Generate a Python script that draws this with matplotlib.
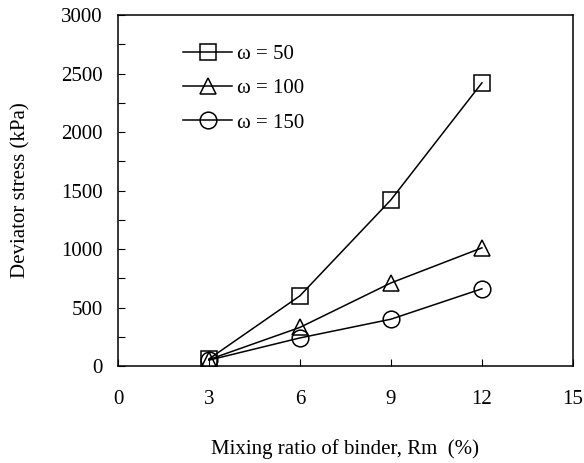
import matplotlib
matplotlib.use('Agg')
import matplotlib.pyplot as plt
from matplotlib.ticker import MultipleLocator

plt.rcParams['font.family'] = ['Liberation Serif', 'DejaVu Serif']
plt.rcParams['font.size'] = 15

# mixing ratio (%) and deviator stress (kPa)
mixing_ratio = [3, 6, 9, 12]
stress_w50 = [60, 600, 1420, 2420]
stress_w100 = [55, 330, 710, 1010]
stress_w150 = [50, 240, 400, 660]
labels = ['\u03c9 = 50', '\u03c9 = 100', '\u03c9 = 150']

fig = plt.figure(figsize=(5.84, 4.63), dpi=100)
ax = fig.add_axes([0.202, 0.2095, 0.779, 0.7581])

series = [stress_w50, stress_w100, stress_w150]
markers = ['s', '^', 'o']
for vals, mk, lab in zip(series, markers, labels):
    ax.plot(mixing_ratio, vals, color='black', linewidth=1.1, marker=mk,
            markersize=12, markerfacecolor='none', markeredgecolor='black',
            markeredgewidth=1.1, label=lab)

ax.set_xlim(0, 15)
ax.set_ylim(0, 3000)
ax.xaxis.set_major_locator(MultipleLocator(3))
ax.yaxis.set_major_locator(MultipleLocator(500))
ax.yaxis.set_minor_locator(MultipleLocator(250))
ax.tick_params(axis='both', which='both', direction='in', width=0.8)
ax.tick_params(axis='y', which='major', length=5, pad=11)
ax.tick_params(axis='y', which='minor', length=5)
ax.tick_params(axis='x', which='major', length=5, pad=17)
ax.tick_params(axis='x', which='minor', bottom=False)
for sp in ax.spines.values():
    sp.set_linewidth(1.1)

ax.set_xlabel('Mixing ratio of binder, Rm  (%)', labelpad=22)
ax.set_ylabel('Deviator stress (kPa)', labelpad=22)

ax.legend(loc='upper left', bbox_to_anchor=(0.296, 0.926),
          bbox_transform=fig.transFigure, frameon=False, borderpad=0,
          handlelength=2.35, handletextpad=0.25, labelspacing=0.7)

fig.savefig('out.png', dpi=100)
